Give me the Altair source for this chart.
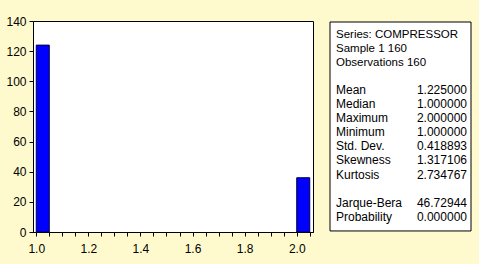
import altair as alt
import pandas as pd

# ---- data ----
bin_start = [1.0, 2.0]
counts = [124, 36]
BIN_W = 0.05

header_lines = ["Series: COMPRESSOR", "Sample 1 160", "Observations 160"]
stat_names = ["Mean", "Median", "Maximum", "Minimum", "Std. Dev.",
              "Skewness", "Kurtosis", "Jarque-Bera", "Probability"]
stat_values = ["1.225000", "1.000000", "2.000000", "1.000000", "0.418893",
               "1.317106", "2.734767", "46.72944", "0.000000"]
stat_rows = [4, 5, 6, 7, 8, 9, 10, 12, 13]

x_ticks = [round(1.0 + 0.05 * i, 2) for i in range(22)]
y_ticks = [0, 20, 40, 60, 80, 100, 120, 140]

FONT = "Liberation Sans"

hist_df = pd.DataFrame({"x0": bin_start, "count": counts})
hist_df["x1"] = hist_df["x0"] + BIN_W
hist_df["base"] = 0

hdr_df = pd.DataFrame({"text": header_lines, "row": list(range(len(header_lines)))})
stat_df = pd.DataFrame({"name": stat_names, "value": stat_values, "row": stat_rows})

hist = alt.Chart(hist_df).mark_bar(
    color="#0000FF", stroke="#000040", strokeWidth=1
).encode(
    x=alt.X("x0:Q", scale=alt.Scale(domain=[0.9875, 2.0625], nice=False, zero=False),
            axis=alt.Axis(values=x_ticks, title=None, grid=False, tickSize=4,
                          labelPadding=7, labelFlush=False, labelOverlap=False,
                          labelExpr="abs(datum.value*5 - round(datum.value*5)) < 0.001 ? format(datum.value, '.1f') : ''")),
    x2="x1:Q",
    y=alt.Y("count:Q", scale=alt.Scale(domain=[0, 140], nice=False),
            axis=alt.Axis(values=y_ticks, title=None, grid=False, tickSize=4,
                          labelPadding=3, labelFlush=False, labelOverlap=False)),
    y2="base:Q",
)

sx = alt.Scale(domain=[0, 1], range=[297, 438], nice=False, zero=False)
sy = alt.Scale(domain=[0, 13], range=[16.9, 199.7], nice=False, zero=False)

box = alt.Chart(pd.DataFrame({"a": [0]})).transform_calculate(
    bx0="0", bx1="1", by0="-1.13", by1="13.73"
).mark_rect(fill="white", stroke="black", strokeWidth=1).encode(
    x=alt.X("bx0:Q", scale=sx, axis=None), x2="bx1:Q",
    y=alt.Y("by0:Q", scale=sy, axis=None), y2="by1:Q",
)

hdr = alt.Chart(hdr_df).transform_calculate(lx="0.0426").mark_text(
    align="left", baseline="alphabetic", font=FONT, fontSize=11.5, color="black"
).encode(
    x=alt.X("lx:Q", scale=sx, axis=None),
    y=alt.Y("row:Q", scale=sy, axis=None),
    text="text:N",
)

names = alt.Chart(stat_df).transform_calculate(lx="0.0426").mark_text(
    align="left", baseline="alphabetic", font=FONT, fontSize=12, color="black"
).encode(
    x=alt.X("lx:Q", scale=sx, axis=None),
    y=alt.Y("row:Q", scale=sy, axis=None),
    text="name:N",
)

vals = alt.Chart(stat_df).transform_calculate(vx="0.9716").mark_text(
    align="right", baseline="alphabetic", font=FONT, fontSize=12, color="black"
).encode(
    x=alt.X("vx:Q", scale=sx, axis=None),
    y=alt.Y("row:Q", scale=sy, axis=None),
    text="value:N",
)

stats = alt.layer(box, hdr, names, vals)

chart = alt.layer(hist, stats).resolve_scale(
    x="independent", y="independent"
).properties(
    width=280, height=211,
    autosize=alt.AutoSizeParams(type="none"),
    padding={"left": 33, "top": 21, "right": 166, "bottom": 32},
    background="#FFFACD",
).configure_view(
    stroke="black", strokeWidth=1, fill="white"
).configure_axis(
    domainColor="black", tickColor="black", labelColor="black",
    labelFont=FONT, labelFontSize=12, domainWidth=1, tickWidth=1,
)

chart.save("out.html", embed_options={"renderer": "svg", "actions": False})
